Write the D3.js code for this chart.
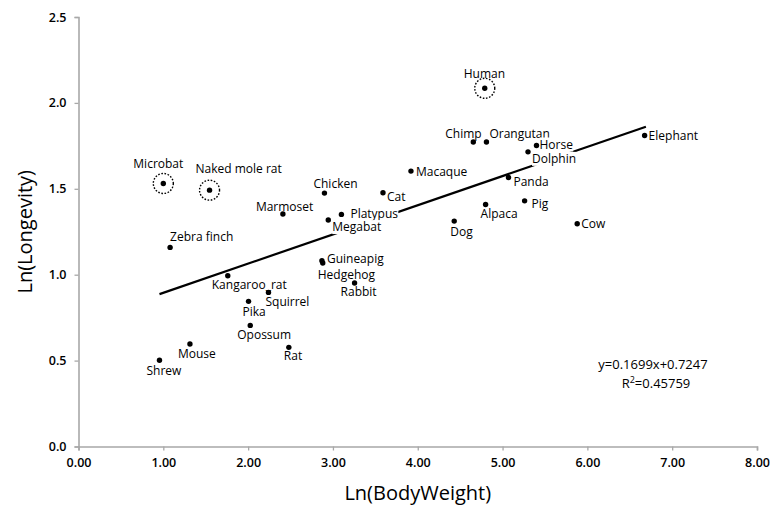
<!DOCTYPE html>
<html>
<head>
<meta charset="utf-8">
<script src="https://cdn.jsdelivr.net/npm/d3@7"></script>
<style>
  html, body { margin: 0; padding: 0; background: #fff; }
  svg { display: block; font-family: "Open Sans", "DejaVu Sans", sans-serif; }
</style>
</head>
<body>
<svg id="chart" width="772" height="510"></svg>
<script>
// ---- data ----
const species = ["Microbat","Naked mole rat","Chicken","Cat","Marmoset","Platypus","Megabat","Zebra finch",
  "Guineapig","Hedgehog","Kangaroo_rat","Squirrel","Pika","Opossum","Rabbit","Mouse","Rat","Shrew",
  "Human","Chimp","Orangutan","Horse","Dolphin","Elephant","Macaque","Panda","Pig","Alpaca","Dog","Cow"];
const lnBodyWeight = [1.00,1.545,2.90,3.59,2.41,3.10,2.945,1.08,
  2.87,2.88,1.76,2.24,2.005,2.025,3.255,1.314,2.48,0.955,
  4.79,4.655,4.81,5.40,5.30,6.675,3.92,5.07,5.26,4.80,4.43,5.88];
const lnLongevity = [1.531,1.492,1.475,1.477,1.353,1.351,1.318,1.159,
  1.081,1.068,0.994,0.897,0.845,0.705,0.952,0.597,0.577,0.502,
  2.085,1.772,1.772,1.752,1.715,1.810,1.603,1.566,1.430,1.409,1.312,1.297];
const circled = ["Microbat","Naked mole rat","Human"];
const trendSlope = 0.1699, trendIntercept = 0.7247, rSquared = "0.45759";
const trendRange = [0.955, 6.69];
const xTicks = [0,1,2,3,4,5,6,7,8];
const yTicks = [0,0.5,1.0,1.5,2.0,2.5];

// label placement (pixel offsets from point: left x, baseline y)
const labelOffsets = {
  "Microbat":[-30,-15],"Naked mole rat":[-14,-17],"Chicken":[-11,-5],"Cat":[4,8],"Marmoset":[-27,-3],
  "Platypus":[9,4],"Megabat":[4,11],"Zebra finch":[0,-6],"Guineapig":[5,2],"Hedgehog":[-5,16],
  "Kangaroo_rat":[-16,13],"Squirrel":[-3,14],"Pika":[-6,15],"Opossum":[-13,14],"Rabbit":[-14,13],
  "Mouse":[-12,14],"Rat":[-5,13],"Shrew":[-13,15],"Human":[-21,-10],"Chimp":[-28,-4],
  "Orangutan":[3,-4],"Horse":[3,3],"Dolphin":[4,11],"Elephant":[4,4],"Macaque":[5,5],
  "Panda":[5,9],"Pig":[7,7],"Alpaca":[-5,14],"Dog":[-4,15],"Cow":[4,4]
};

const svg = d3.select("#chart");
const x = d3.scaleLinear().domain([0, 8]).range([78.5, 757]);
const y = d3.scaleLinear().domain([0, 2.5]).range([446.5, 17]);

// axes
const axisColor = "#a8a8a8";
const gx = svg.append("g").attr("transform", `translate(0,${y(0)})`)
  .call(d3.axisBottom(x).tickValues(xTicks).tickFormat(d3.format(".2f")).tickSizeOuter(0).tickSize(4).tickPadding(8));
const gy = svg.append("g").attr("transform", `translate(${x(0)},0)`)
  .call(d3.axisLeft(y).tickValues(yTicks).tickFormat(d3.format(".1f")).tickSizeOuter(0).tickSize(4).tickPadding(8));
[gx, gy].forEach(g => {
  g.select(".domain").attr("stroke", axisColor).attr("stroke-width", 1.6);
  g.selectAll(".tick line").attr("stroke", axisColor).attr("stroke-width", 1.3);
  g.selectAll(".tick text").attr("fill", "#000").attr("font-size", 12.5).attr("font-weight", 600)
    .attr("font-family", "'Open Sans', sans-serif");
});

// axis titles
svg.append("text").attr("x", (x(0) + x(8)) / 2).attr("y", 500).attr("text-anchor", "middle")
  .attr("font-size", 20).attr("fill", "#000").text("Ln(BodyWeight)");
svg.append("text").attr("transform", `translate(32,${(y(0) + y(2.5)) / 2}) rotate(-90)`)
  .attr("text-anchor", "middle").attr("font-size", 20).attr("fill", "#000").text("Ln(Longevity)");

// trend line
svg.append("line")
  .attr("x1", x(trendRange[0])).attr("y1", y(trendSlope * trendRange[0] + trendIntercept))
  .attr("x2", x(trendRange[1])).attr("y2", y(trendSlope * trendRange[1] + trendIntercept))
  .attr("stroke", "#000").attr("stroke-width", 2.2);

// data
const data = species.map((s, i) => ({ name: s, bx: lnBodyWeight[i], ly: lnLongevity[i] }));

// labels with white backgrounds
const lg = svg.append("g");
data.forEach(d => {
  const off = labelOffsets[d.name];
  const g = lg.append("g");
  const t = g.append("text").attr("x", x(d.bx) + off[0]).attr("y", y(d.ly) + off[1])
    .attr("font-size", 12).attr("fill", "#000").attr("font-weight", 500).text(d.name);
  const bb = t.node().getBBox();
  g.insert("rect", "text").attr("x", bb.x).attr("y", bb.y + 2).attr("width", bb.width).attr("height", bb.height - 3)
    .attr("fill", "#fff");
});

// dotted circles
svg.selectAll("circle.ring").data(data.filter(d => circled.includes(d.name))).enter()
  .append("circle").attr("class", "ring")
  .attr("cx", d => x(d.bx)).attr("cy", d => y(d.ly)).attr("r", 10)
  .attr("fill", "none").attr("stroke", "#000").attr("stroke-width", 1.4).attr("stroke-dasharray", "1.6 1.6");

// dots
svg.selectAll("circle.dot").data(data).enter().append("circle").attr("class", "dot")
  .attr("cx", d => x(d.bx)).attr("cy", d => y(d.ly)).attr("r", 2.7).attr("fill", "#000");

// equation
svg.append("text").attr("x", 653).attr("y", 369).attr("text-anchor", "middle")
  .attr("font-size", 13).attr("fill", "#000").text(`y=${trendSlope}x+${trendIntercept}`);
const r2 = svg.append("text").attr("x", 656).attr("y", 388).attr("text-anchor", "middle")
  .attr("font-size", 13).attr("fill", "#000");
r2.append("tspan").text("R");
r2.append("tspan").attr("dy", -5).attr("font-size", 9).text("2");
r2.append("tspan").attr("dy", 5).text("=" + rSquared);
</script>
</body>
</html>
